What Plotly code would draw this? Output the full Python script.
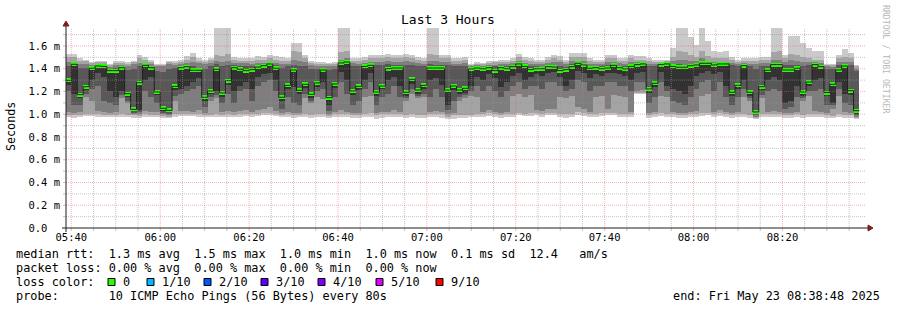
import plotly.graph_objects as go
import pandas as pd

# ---------------- data ----------------
first_step_end = "2025-05-23 05:40:00"   # rrd step (80 s) end of first sample
step_seconds = 80
view_start = "2025-05-23 05:38:48"
view_end = "2025-05-23 08:38:48"
y_max = 1.758

median_rtt = [
 1.298,1.439,1.172,1.242,1.404,1.424,1.420,1.383,1.383,1.409,
 1.181,1.043,1.277,1.430,1.409,1.196,1.052,1.034,1.245,1.409,
 1.418,1.386,1.386,1.149,1.204,1.395,1.187,1.295,1.409,1.395,
 1.383,1.392,1.415,1.427,1.442,1.404,1.149,1.254,1.389,1.210,
 1.263,1.175,1.275,1.389,1.146,1.266,1.451,1.459,1.204,1.245,
 1.420,1.430,1.196,1.248,1.401,1.406,1.406,1.193,1.307,1.213,
 1.254,1.406,1.406,1.406,1.213,1.248,1.213,1.228,1.398,1.406,
 1.400,1.409,1.383,1.409,1.400,1.418,1.442,1.420,1.392,1.400,
 1.400,1.418,1.415,1.383,1.392,1.418,1.448,1.433,1.404,1.409,
 1.400,1.406,1.430,1.409,1.398,1.420,1.436,1.442,1.222,1.272,
 1.436,1.442,1.420,1.413,1.413,1.427,1.433,1.448,1.448,1.433,
 1.442,1.442,1.193,1.254,1.427,1.193,1.020,1.242,1.386,1.436,
 1.436,1.389,1.389,1.404,1.196,1.283,1.436,1.418,1.190,1.263,
 1.389,1.424,1.207,1.031]

# sorted ping times per step (ping1 lowest ... ping10 highest); ping6 is the median
ping10 = [
 1.53,1.53,1.49,1.48,1.46,1.47,1.47,1.44,1.465,1.465,
 1.455,1.47,1.52,1.50,1.48,1.445,1.445,1.47,1.465,1.48,
 1.51,1.54,1.49,1.48,1.495,1.85,1.85,1.85,1.50,1.495,
 1.49,1.495,1.51,1.50,1.52,1.51,1.50,1.495,1.63,1.63,
 1.52,1.465,1.46,1.455,1.45,1.46,1.85,1.85,1.49,1.49,
 1.50,1.52,1.525,1.52,1.53,1.52,1.52,1.53,1.52,1.50,
 1.49,1.85,1.85,1.52,1.525,1.49,1.495,1.50,1.445,1.46,
 1.45,1.465,1.47,1.48,1.475,1.49,1.53,1.50,1.49,1.475,
 1.48,1.50,1.52,1.51,1.475,1.54,1.54,1.54,1.49,1.475,
 1.475,1.52,1.52,1.49,1.495,1.52,1.51,1.51,1.49,1.48,
 1.48,1.48,1.58,1.85,1.85,1.68,1.61,1.85,1.64,1.56,
 1.55,1.56,1.50,1.475,1.49,1.495,1.495,1.50,1.50,1.85,
 1.85,1.52,1.69,1.69,1.63,1.58,1.56,1.56,1.445,1.44,
 1.52,1.57,1.54,1.43]
ping9 = [
 1.50,1.50,1.47,1.465,1.45,1.455,1.455,1.43,1.45,1.45,
 1.44,1.455,1.49,1.475,1.46,1.435,1.435,1.455,1.45,1.46,
 1.48,1.50,1.47,1.46,1.475,1.52,1.51,1.53,1.475,1.47,
 1.47,1.47,1.48,1.475,1.49,1.48,1.47,1.47,1.56,1.55,
 1.49,1.45,1.445,1.44,1.44,1.445,1.55,1.56,1.47,1.47,
 1.475,1.49,1.49,1.49,1.50,1.49,1.49,1.50,1.49,1.475,
 1.47,1.53,1.52,1.49,1.495,1.47,1.47,1.475,1.435,1.445,
 1.44,1.45,1.455,1.46,1.46,1.47,1.50,1.475,1.47,1.46,
 1.46,1.475,1.49,1.48,1.46,1.50,1.50,1.50,1.47,1.46,
 1.46,1.49,1.49,1.47,1.47,1.49,1.48,1.48,1.47,1.46,
 1.46,1.465,1.50,1.56,1.55,1.52,1.50,1.56,1.51,1.49,
 1.49,1.49,1.475,1.46,1.47,1.47,1.47,1.475,1.475,1.55,
 1.56,1.49,1.53,1.52,1.50,1.49,1.48,1.48,1.435,1.43,
 1.49,1.50,1.49,1.42]
ping8 = [
 1.46,1.46,1.445,1.44,1.43,1.44,1.44,1.415,1.43,1.43,
 1.42,1.44,1.45,1.45,1.44,1.42,1.42,1.44,1.43,1.44,
 1.45,1.46,1.45,1.44,1.45,1.47,1.46,1.47,1.45,1.45,
 1.45,1.445,1.45,1.45,1.46,1.45,1.445,1.445,1.48,1.47,
 1.46,1.43,1.425,1.42,1.42,1.425,1.48,1.49,1.45,1.445,
 1.45,1.46,1.46,1.46,1.47,1.46,1.46,1.47,1.46,1.45,
 1.445,1.47,1.47,1.46,1.46,1.445,1.445,1.45,1.42,1.43,
 1.425,1.43,1.435,1.44,1.44,1.45,1.47,1.45,1.445,1.44,
 1.44,1.45,1.46,1.455,1.44,1.47,1.47,1.47,1.445,1.44,
 1.44,1.46,1.46,1.45,1.445,1.46,1.46,1.46,1.445,1.44,
 1.445,1.455,1.47,1.48,1.48,1.47,1.47,1.49,1.47,1.46,
 1.46,1.46,1.45,1.44,1.45,1.445,1.445,1.45,1.45,1.48,
 1.48,1.46,1.48,1.47,1.46,1.46,1.455,1.45,1.42,1.415,
 1.46,1.46,1.46,1.40]
ping7 = [
 1.42,1.45,1.41,1.41,1.42,1.435,1.43,1.40,1.41,1.42,
 1.39,1.40,1.42,1.44,1.425,1.38,1.37,1.40,1.41,1.425,
 1.435,1.42,1.41,1.40,1.42,1.44,1.42,1.43,1.43,1.42,
 1.42,1.42,1.43,1.44,1.45,1.43,1.41,1.42,1.43,1.42,
 1.42,1.40,1.40,1.40,1.39,1.40,1.46,1.47,1.42,1.42,
 1.435,1.445,1.43,1.43,1.44,1.43,1.43,1.43,1.43,1.42,
 1.42,1.44,1.43,1.43,1.43,1.42,1.42,1.42,1.41,1.415,
 1.41,1.42,1.42,1.425,1.42,1.43,1.455,1.435,1.42,1.42,
 1.415,1.43,1.43,1.42,1.415,1.44,1.46,1.45,1.42,1.42,
 1.42,1.43,1.44,1.425,1.42,1.435,1.45,1.45,1.42,1.42,
 1.44,1.45,1.44,1.44,1.43,1.44,1.45,1.46,1.46,1.45,
 1.45,1.45,1.43,1.42,1.44,1.42,1.40,1.42,1.42,1.45,
 1.45,1.43,1.43,1.43,1.42,1.43,1.44,1.43,1.40,1.40,
 1.43,1.44,1.43,1.38]
ping5 = [
 1.26,1.18,1.14,1.21,1.30,1.36,1.33,1.20,1.15,1.20,
 1.15,1.03,1.04,1.30,1.33,1.17,1.03,1.02,1.21,1.22,
 1.25,1.28,1.32,1.12,1.18,1.20,1.15,1.26,1.20,1.25,
 1.28,1.22,1.33,1.35,1.36,1.30,1.12,1.22,1.24,1.18,
 1.23,1.14,1.24,1.28,1.08,1.23,1.37,1.30,1.17,1.21,
 1.30,1.36,1.16,1.22,1.30,1.33,1.25,1.16,1.27,1.18,
 1.22,1.30,1.32,1.26,1.08,1.21,1.18,1.19,1.25,1.33,
 1.30,1.35,1.32,1.24,1.28,1.34,1.36,1.30,1.33,1.35,
 1.34,1.36,1.37,1.33,1.25,1.30,1.38,1.36,1.32,1.35,
 1.34,1.36,1.36,1.35,1.34,1.30,1.36,1.37,1.19,1.24,
 1.37,1.25,1.22,1.20,1.18,1.25,1.34,1.36,1.38,1.35,
 1.37,1.25,1.16,1.22,1.30,1.16,1.00,1.21,1.30,1.33,
 1.30,1.10,1.12,1.25,1.16,1.25,1.30,1.32,1.16,1.10,
 1.28,1.18,1.17,1.00]
ping4 = [
 1.20,1.08,1.08,1.18,1.22,1.25,1.12,1.10,1.08,1.17,
 1.12,1.01,1.02,1.20,1.15,1.10,1.01,1.00,1.16,1.18,
 1.20,1.22,1.25,1.06,1.15,1.17,1.10,1.18,1.10,1.20,
 1.22,1.12,1.25,1.28,1.30,1.20,1.05,1.15,1.10,1.08,
 1.18,1.12,1.20,1.22,1.03,1.15,1.28,1.18,1.08,1.12,
 1.22,1.28,1.08,1.15,1.18,1.25,1.15,1.14,1.22,1.16,
 1.18,1.15,1.22,1.15,1.04,1.12,1.15,1.17,1.20,1.25,
 1.20,1.25,1.20,1.15,1.20,1.25,1.28,1.22,1.25,1.25,
 1.22,1.28,1.28,1.25,1.20,1.22,1.30,1.28,1.20,1.25,
 1.25,1.28,1.28,1.25,1.25,1.20,1.28,1.28,1.10,1.15,
 1.28,1.20,1.12,1.10,1.08,1.15,1.22,1.28,1.30,1.20,
 1.28,1.15,1.08,1.15,1.22,1.14,0.99,1.17,1.20,1.22,
 1.20,1.05,1.06,1.15,1.14,1.20,1.20,1.22,1.08,1.08,
 1.22,1.10,1.08,0.99]
ping3 = [
 1.02,1.01,1.02,1.15,1.12,1.03,1.02,1.01,1.02,1.14,
 1.10,1.00,1.00,1.03,1.02,1.02,1.00,0.99,1.12,1.03,
 1.03,1.02,1.04,1.01,1.12,1.14,1.02,1.03,1.02,1.03,
 1.04,1.02,1.04,1.05,1.06,1.03,1.01,1.02,1.01,1.01,
 1.14,1.10,1.15,1.13,1.00,1.02,1.04,1.02,1.01,1.01,
 1.15,1.16,1.01,1.02,1.02,1.04,1.02,1.12,1.18,1.14,
 1.15,1.02,1.03,1.02,1.00,1.01,1.12,1.14,1.16,1.15,
 1.02,1.04,1.02,1.01,1.02,1.16,1.18,1.15,1.17,1.04,
 1.03,1.05,1.05,1.15,1.14,1.16,1.06,1.05,1.02,1.15,
 1.16,1.05,1.17,1.16,1.15,1.02,1.20,1.21,1.01,1.02,
 1.16,1.15,1.02,1.01,1.01,1.02,1.03,1.16,1.18,1.02,
 1.04,1.02,1.01,1.02,1.15,1.12,0.98,1.14,1.02,1.03,
 1.02,1.01,1.01,1.02,1.12,1.16,1.03,1.02,1.01,1.05,
 1.16,1.02,1.01,0.98]
ping2 = [
 0.99,0.99,0.995,1.00,1.00,1.00,0.995,0.99,0.99,1.00,
 0.99,0.99,0.985,1.00,0.995,0.99,0.985,0.98,1.00,1.00,
 1.00,1.00,1.00,0.99,0.99,1.00,0.99,1.00,0.99,1.00,
 1.00,1.00,1.00,1.01,1.01,1.00,0.99,1.00,0.99,0.99,
 1.00,0.99,1.00,1.00,0.985,1.00,1.00,1.00,0.99,0.99,
 1.00,1.01,0.99,1.00,1.00,1.00,1.00,0.99,1.00,0.99,
 0.99,1.00,1.00,1.00,0.98,0.99,0.99,0.99,0.99,1.00,
 1.00,1.01,1.00,0.99,1.00,1.00,1.01,1.00,1.01,1.01,
 1.00,1.01,1.01,1.00,1.00,1.00,1.02,1.01,1.00,1.00,
 1.01,1.01,1.01,1.00,1.00,1.00,1.19,1.19,0.99,1.00,
 1.01,1.00,1.00,0.99,0.99,1.00,1.00,1.01,1.01,1.00,
 1.01,1.00,0.99,1.00,1.00,0.99,0.97,1.00,1.00,1.00,
 1.00,0.99,0.99,1.00,0.99,1.00,1.00,1.00,0.99,0.985,
 1.00,0.99,0.99,0.97]
ping1 = [
 0.975,0.97,0.98,0.985,0.985,0.98,0.98,0.975,0.975,0.98,
 0.975,0.97,0.965,0.98,0.98,0.975,0.97,0.965,0.98,0.985,
 0.985,0.985,0.98,0.975,0.975,0.98,0.975,0.98,0.975,0.98,
 0.985,0.98,0.985,0.99,0.99,0.985,0.975,0.98,0.97,0.975,
 0.98,0.97,0.975,0.975,0.965,0.975,0.98,0.98,0.97,0.965,
 0.975,0.98,0.96,0.97,0.975,0.98,0.975,0.97,0.98,0.965,
 0.97,0.975,0.98,0.97,0.955,0.96,0.965,0.97,0.975,0.98,
 0.98,0.985,0.98,0.97,0.98,0.98,0.99,0.985,0.985,0.99,
 0.98,0.99,0.99,0.98,0.97,0.975,0.99,0.985,0.98,0.98,
 0.985,0.99,0.99,0.98,0.98,0.975,1.18,1.18,0.97,0.975,
 0.985,0.975,0.975,0.965,0.97,0.975,0.98,0.985,0.99,0.98,
 0.985,0.975,0.965,0.975,0.975,0.97,0.955,0.975,0.975,0.98,
 0.975,0.97,0.965,0.975,0.97,0.975,0.975,0.98,0.97,0.965,
 0.975,0.97,0.965,0.955]

y_tick_vals = [0.0, 0.2, 0.4, 0.6, 0.8, 1.0, 1.2, 1.4, 1.6]
y_tick_text = ["0.0  ", "0.2 m", "0.4 m", "0.6 m", "0.8 m", "1.0 m", "1.2 m", "1.4 m", "1.6 m"]
x_tick_text = ["05:40", "06:00", "06:20", "06:40", "07:00", "07:20", "07:40", "08:00", "08:20"]

title_text = "Last 3 Hours"
y_title = "Seconds"
legend_lines = [
    "median rtt:  1.3 ms avg  1.5 ms max  1.0 ms min  1.0 ms now  0.1 ms sd  12.4   am/s",
    "packet loss: 0.00 % avg  0.00 % max  0.00 % min  0.00 % now",
    "loss color:",
    "probe:       10 ICMP Echo Pings (56 Bytes) every 80s",
]
loss_labels = ["0", "1/10", "2/10", "3/10", "4/10", "5/10", "9/10"]
loss_colors = ["#26ff00", "#00b8ff", "#0059ff", "#5e00ff", "#7e00ff", "#dd00ff", "#ff0000"]
end_text = "end: Fri May 23 08:38:48 2025"
watermark = "RRDTOOL / TOBI OETIKER"

# ---------------- geometry helpers (pixel -> paper) ----------------
W, H = 897, 310
L, R, T, B = 66, 866, 28, 228
def px(x):
    return (x - L) / (R - L)
def py(y):
    return (B - y) / (B - T)
def nb(s):
    return s.replace(" ", "\u00a0")

MONO = "DejaVu Sans Mono"
LEG_SIZE = 11.85

n = len(median_rtt)
ends = pd.date_range(first_step_end, periods=n, freq=f"{step_seconds}s")
starts = ends - pd.Timedelta(seconds=step_seconds)
centers = ends - pd.Timedelta(seconds=step_seconds / 2)
step_ms = step_seconds * 1000

fig = go.Figure()

band_colors = ["#cacaca", "#a4a4a4", "#7e7e7e", "#585858", "#323232"]
lows = [ping1, ping2, ping3, ping4, ping5]
highs = [ping10, ping9, ping8, ping7, median_rtt]
for lo, hi, col in zip(lows, highs, band_colors):
    fig.add_trace(go.Bar(
        x=centers, base=lo, y=[h - l for l, h in zip(lo, hi)], width=step_ms,
        marker=dict(color=col, line=dict(width=0)), hoverinfo="skip", showlegend=False))

# median: thin dark step line, then loss-coloured bar on top
fig.add_trace(go.Scatter(
    x=list(starts) + [ends[-1]], y=median_rtt + [median_rtt[-1]],
    mode="lines", line=dict(color="#202020", width=1, shape="hv"),
    hoverinfo="skip", showlegend=False))
half_h = 2.0 * y_max / (B - T)
fig.add_trace(go.Bar(
    x=centers, base=[m - half_h for m in median_rtt], y=[2 * half_h] * n, width=step_ms,
    marker=dict(color=loss_colors[0], line=dict(width=0)), hoverinfo="skip", showlegend=False))

shapes = []
grid_minor = "rgba(150,150,150,0.55)"
grid_major = "rgba(225,90,90,0.45)"
# horizontal grid
for i in range(1, 18):
    v = i / 10
    major = (i % 2 == 0)
    col = grid_major if major else grid_minor
    shapes.append(dict(type="line", xref="paper", yref="y", x0=0, x1=1, y0=v, y1=v,
                       line=dict(color=col, width=1, dash="1px,1px"), layer="above"))
    shapes.append(dict(type="line", xref="paper", yref="y", x0=px(L - 3), x1=px(L), y0=v, y1=v,
                       line=dict(color=col, width=1), layer="above"))
# vertical grid
t = pd.Timestamp("2025-05-23 05:40:00")
tend = pd.Timestamp(view_end)
x_tick_vals = []
while t < tend:
    major = (t.minute % 20 == 0)
    col = grid_major if major else grid_minor
    if major:
        x_tick_vals.append(t)
    shapes.append(dict(type="line", xref="x", yref="paper", x0=t, x1=t, y0=0, y1=1,
                       line=dict(color=col, width=1, dash="1px,1px"), layer="above"))
    shapes.append(dict(type="line", xref="x", yref="paper", x0=t, x1=t, y0=py(B + 3), y1=py(B),
                       line=dict(color=col, width=1), layer="above"))
    t += pd.Timedelta(minutes=5)

axis_col = "#1f1f1f"
arrow_col = "#7f1f1f"
shapes.append(dict(type="line", xref="paper", yref="paper", x0=px(L - 4), x1=px(R + 4), y0=py(B), y1=py(B),
                   line=dict(color=axis_col, width=1), layer="above"))
shapes.append(dict(type="line", xref="paper", yref="paper", x0=px(L), x1=px(L), y0=py(B + 4), y1=py(T - 4),
                   line=dict(color=axis_col, width=1), layer="above"))
shapes.append(dict(type="path", xref="paper", yref="paper",
                   path=f"M {px(R+2)},{py(B-3)} L {px(R+7)},{py(B)} L {px(R+2)},{py(B+3)} Z",
                   fillcolor=arrow_col, line=dict(color=arrow_col, width=1), layer="above"))
shapes.append(dict(type="path", xref="paper", yref="paper",
                   path=f"M {px(L-3)},{py(T-2)} L {px(L)},{py(T-7)} L {px(L+3)},{py(T-2)} Z",
                   fillcolor=arrow_col, line=dict(color=arrow_col, width=1), layer="above"))

annotations = []
annotations.append(dict(text=nb(title_text), x=px(448), y=py(20), xref="paper", yref="paper",
                        showarrow=False, xanchor="center", yanchor="middle",
                        font=dict(family=MONO, size=13, color="black")))
annotations.append(dict(text=nb(y_title), x=px(11), y=py(126), xref="paper", yref="paper",
                        showarrow=False, xanchor="center", yanchor="middle", textangle=-90,
                        font=dict(family=MONO, size=11.7, color="black")))
annotations.append(dict(text=nb(watermark), x=px(886), y=py(60), xref="paper", yref="paper",
                        showarrow=False, xanchor="center", yanchor="middle", textangle=90,
                        font=dict(family=MONO, size=8.2, color="#b8b8b8")))
line_y = [254, 268, 282, 296]
for txt, yy in zip(legend_lines, line_y):
    annotations.append(dict(text=nb(txt), x=px(14), y=py(yy), xref="paper", yref="paper",
                            showarrow=False, xanchor="left", yanchor="middle",
                            font=dict(family=MONO, size=LEG_SIZE, color="black")))
annotations.append(dict(text=nb(end_text), x=px(882), y=py(296), xref="paper", yref="paper",
                        showarrow=False, xanchor="right", yanchor="middle",
                        font=dict(family=MONO, size=LEG_SIZE, color="black")))
box_x = [108, 147, 204, 261, 318, 376, 436]
for lab, col, bx in zip(loss_labels, loss_colors, box_x):
    shapes.append(dict(type="rect", xref="paper", yref="paper", x0=px(bx), x1=px(bx + 7),
                       y0=py(278.5), y1=py(285.5), fillcolor=col, line=dict(color="black", width=1)))
    annotations.append(dict(text=nb(lab), x=px(bx + 12.5), y=py(282), xref="paper", yref="paper",
                            showarrow=False, xanchor="left", yanchor="middle",
                            font=dict(family=MONO, size=LEG_SIZE, color="black")))

fig.update_layout(
    width=W, height=H,
    margin=dict(l=L, r=W - R, t=T, b=H - B, pad=0),
    paper_bgcolor="white", plot_bgcolor="white",
    barmode="overlay", bargap=0, showlegend=False,
    xaxis=dict(type="date", range=[view_start, view_end], showgrid=False, zeroline=False,
               showline=False, tickmode="array", tickvals=x_tick_vals, ticktext=x_tick_text,
               ticks="", ticklabelstandoff=1,
               tickfont=dict(family=MONO, size=10.5, color="black")),
    yaxis=dict(range=[0, y_max], showgrid=False, zeroline=False, showline=False,
               tickmode="array", tickvals=y_tick_vals, ticktext=[nb(s) for s in y_tick_text],
               ticks="", ticklabelstandoff=5,
               tickfont=dict(family=MONO, size=10.5, color="black")),
    shapes=shapes, annotations=annotations,
)

fig.write_html("out.html")
